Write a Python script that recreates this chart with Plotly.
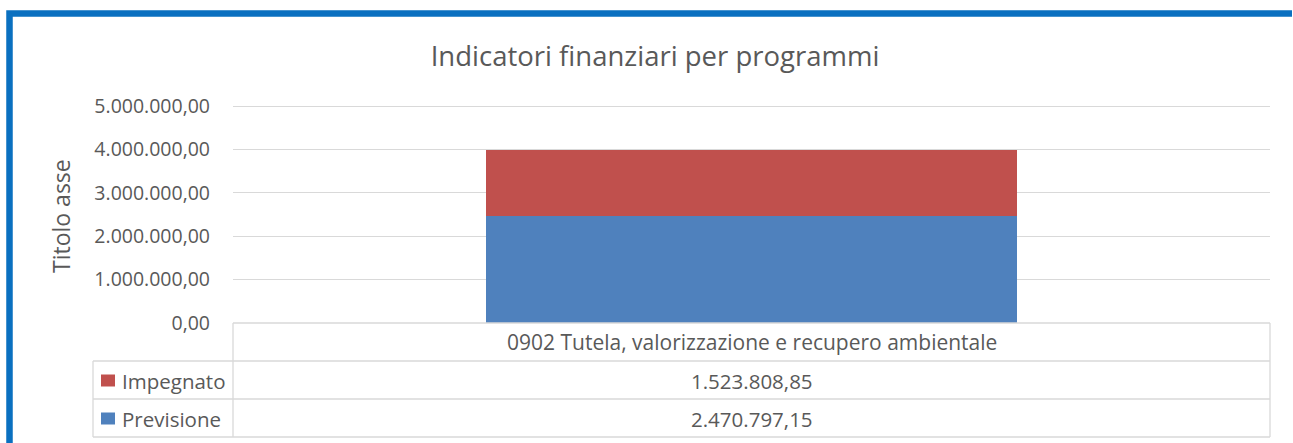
import plotly.graph_objects as go

categories = ["0902 Tutela, valorizzazione e recupero ambientale"]
series_names = ["Previsione", "Impegnato"]
previsione = [2470797.15]
impegnato = [1523808.85]
series_values = [previsione, impegnato]
series_colors = ["#4F81BD", "#C0504D"]
y_ticks = [0, 1000000, 2000000, 3000000, 4000000, 5000000]

W, H = 1293, 443
L, R, T, B = 233, 1270, 100, 323
pw, ph = R - L, B - T
YMAX = 5000000 * (B - T) / 217.0

def px(x):
    return (x - L) / pw

def py(y):
    return (B - y) / ph

def it_fmt(v):
    s = f"{v:,.2f}"
    return s.replace(",", "X").replace(".", ",").replace("X", ".")

FONT = "Open Sans"
TXT = "#595959"
GRID = "#D9D9D9"

fig = go.Figure()
for name, vals, col in zip(series_names, series_values, series_colors):
    fig.add_trace(go.Bar(x=categories, y=vals, name=name, marker_color=col,
                         marker_line_width=0, width=0.513, showlegend=False))

shapes = []
annotations = []

# outer blue frame: only top and left edges are inside the viewport
fx0, fy0 = px(9.5), py(13.5)
shapes.append(dict(type="path", xref="paper", yref="paper",
                   path=f"M {fx0},{py(443)} L {fx0},{fy0} L {px(1292)},{fy0}",
                   line=dict(color="#0A70C0", width=6.5), layer="below"))

# data table lines
tl = dict(color=GRID, width=1.3)
row_y = [323, 361, 399, 437]
shapes.append(dict(type="line", xref="paper", yref="paper", x0=px(233), x1=px(1270), y0=py(323), y1=py(323), line=tl))
for yy in row_y[1:]:
    shapes.append(dict(type="line", xref="paper", yref="paper", x0=px(93), x1=px(1270), y0=py(yy), y1=py(yy), line=tl))
shapes.append(dict(type="line", xref="paper", yref="paper", x0=px(233), x1=px(233), y0=py(323), y1=py(437), line=tl))
shapes.append(dict(type="line", xref="paper", yref="paper", x0=px(1270), x1=px(1270), y0=py(323), y1=py(437), line=tl))
shapes.append(dict(type="line", xref="paper", yref="paper", x0=px(93), x1=px(93), y0=py(361), y1=py(437), line=tl))

TBL = 20.5
annotations.append(dict(xref="paper", yref="paper", x=px((233 + 1270) / 2), y=py(342),
                        xanchor="center", yanchor="middle",
                        text=categories[0], showarrow=False,
                        font=dict(family=FONT, size=21, color=TXT)))

rows = [("Impegnato", impegnato[0], series_colors[1], 380.5), ("Previsione", previsione[0], series_colors[0], 418.5)]
for name, val, col, yc in rows:
    shapes.append(dict(type="rect", xref="paper", yref="paper",
                       x0=px(101), x1=px(115), y0=py(yc + 6), y1=py(yc - 6),
                       fillcolor=col, line=dict(width=0)))
    annotations.append(dict(xref="paper", yref="paper", x=px(119.5), y=py(yc),
                            xanchor="left", yanchor="middle",
                            text=name, showarrow=False,
                            font=dict(family=FONT, size=TBL, color=TXT)))
    annotations.append(dict(xref="paper", yref="paper", x=px((233 + 1270) / 2), y=py(yc),
                            xanchor="center", yanchor="middle",
                            text=it_fmt(val), showarrow=False,
                            font=dict(family=FONT, size=TBL, color=TXT)))

annotations.append(dict(xref="paper", yref="paper", x=px(61), y=py(216), textangle=-90,
                        xanchor="center", yanchor="middle",
                        text="Titolo asse", showarrow=False,
                        font=dict(family=FONT, size=23, color=TXT)))

fig.update_layout(
    width=W, height=H,
    margin=dict(l=L, r=W - R, t=T, b=H - B, pad=0),
    paper_bgcolor="white", plot_bgcolor="white",
    separators=",.",
    barmode="stack",
    title=dict(text="Indicatori finanziari per programmi", x=(430 + 880) / 2 / W, xanchor="center",
               y=1 - 56 / H, yanchor="middle",
               font=dict(family=FONT, size=27.5, color=TXT)),
    xaxis=dict(showticklabels=False, showgrid=False, zeroline=False, showline=False,
               range=[-0.5, 0.5]),
    yaxis=dict(range=[0, YMAX], tickvals=y_ticks, tickformat=",.2f",
               showgrid=True, gridcolor=GRID, gridwidth=1.3, zeroline=False, showline=False,
               ticks="", ticklabelstandoff=22,
               tickfont=dict(family=FONT, size=19.5, color=TXT)),
    shapes=shapes, annotations=annotations,
)

fig.write_html("out.html", config={"displayModeBar": False},
               post_script="document.body.style.margin='0';")
